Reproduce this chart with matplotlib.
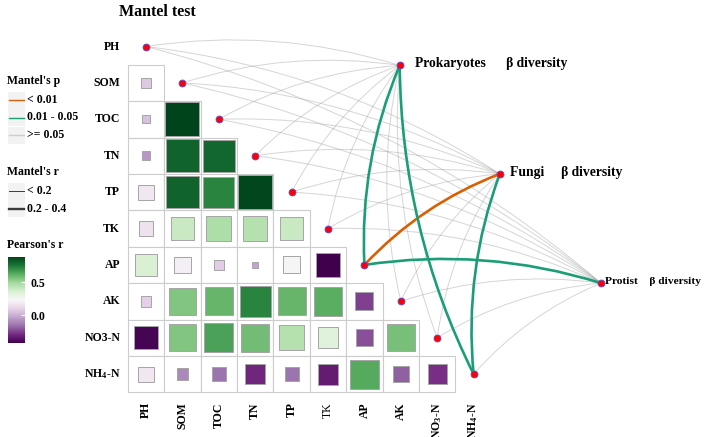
import numpy as np
import matplotlib.pyplot as plt
from matplotlib.path import Path
from matplotlib.patches import PathPatch, Rectangle
from matplotlib.colors import Normalize
from matplotlib.cm import ScalarMappable
from matplotlib.lines import Line2D

plt.rcParams['font.family'] = ['Liberation Serif', 'DejaVu Serif']
plt.rcParams['mathtext.fontset'] = 'custom'
plt.rcParams['mathtext.rm'] = 'Liberation Serif:bold'
plt.rcParams['mathtext.it'] = 'Liberation Serif:bold'
plt.rcParams['mathtext.bf'] = 'Liberation Serif:bold'
plt.rcParams['mathtext.default'] = 'bf'

# ---- data ----
row_labels = ['PH', 'SOM', 'TOC', 'TN', 'TP', 'TK', 'AP', 'AK', 'NO3-N', 'NH$_4$-N']
col_labels = ['PH', 'SOM', 'TOC', 'TN', 'TP', 'TK', 'AP', 'AK', 'NO$_3$-N', 'NH$_4$-N']

# Pearson's r, lower triangle: row i holds columns 0..i-1
pearson = [
    [],
    [0.07],
    [0.05, 0.88],
    [-0.06, 0.80, 0.79],
    [0.17, 0.80, 0.72, 0.87],
    [0.15, 0.40, 0.47, 0.45, 0.40],
    [0.36, 0.20, 0.08, -0.03, 0.22, -0.42],
    [0.09, 0.55, 0.60, 0.72, 0.60, 0.62, -0.25],
    [-0.40, 0.55, 0.65, 0.58, 0.45, 0.33, -0.22, 0.57],
    [0.17, -0.10, -0.15, -0.30, -0.15, -0.33, 0.63, -0.19, -0.28],
]

targets = ['Prokaryotes', 'Fungi', 'Protist']
target_labels = ['Prokaryotes      \u03b2 diversity', 'Fungi     \u03b2 diversity', 'Protist    \u03b2 diversity']

# Mantel test, one row per env variable, columns = targets
mantel_r = [
    [0.08, 0.05, 0.04],
    [0.12, 0.09, 0.10],
    [0.10, 0.07, 0.08],
    [0.06, 0.11, 0.07],
    [0.09, 0.06, 0.12],
    [0.11, 0.10, 0.09],
    [0.26, 0.33, 0.27],
    [0.07, 0.08, 0.06],
    [0.13, 0.12, 0.05],
    [0.29, 0.24, 0.11],
]
mantel_p = [
    [0.32, 0.55, 0.61],
    [0.21, 0.34, 0.28],
    [0.26, 0.47, 0.39],
    [0.45, 0.19, 0.42],
    [0.30, 0.52, 0.17],
    [0.24, 0.29, 0.36],
    [0.02, 0.004, 0.03],
    [0.41, 0.38, 0.58],
    [0.18, 0.22, 0.63],
    [0.02, 0.03, 0.27],
]

# ---- layout (cell units, y grows downward) ----
W, H = 708, 437
cell = 36.4
x0_px, y0_px = 146, 46.5
target_x = [6.97, 9.72, 12.5]
target_y = [0.52, 3.5, 6.5]
label_dx = [0.42, 0.28, 0.11]
label_size = [9.8, 9.8, 8.2]
bend = 0.115

cmap = plt.get_cmap('PRGn')
vals = [v for row in pearson for v in row]
norm = Normalize(vmin=min(vals), vmax=max(vals))

fig = plt.figure(figsize=(W / 100, H / 100), dpi=100)
ax = fig.add_axes([0, 0, 1, 1])
ax.set_xlim(-x0_px / cell, (W - x0_px) / cell)
ax.set_ylim((H - y0_px) / cell, -y0_px / cell)
ax.axis('off')

n = len(row_labels)
for i in range(n):
    for j, r in enumerate(pearson[i]):
        ax.add_patch(Rectangle((j - 0.5, i - 0.5), 1, 1, fc='white', ec='#cccccc', lw=0.8, zorder=1))
        s = np.sqrt(abs(r))
        ax.add_patch(Rectangle((j - s / 2, i - s / 2), s, s, fc=cmap(norm(r)), ec='#a5a5a5', lw=0.7, zorder=2))
    ax.text(-0.71, i, row_labels[i], ha='right', va='center', fontsize=8.5, weight='bold')
    ax.text(i, 9.77, col_labels[i], rotation=90, ha='center', va='top', fontsize=8.5,
            weight='normal' if col_labels[i] == 'TK' else 'bold')


def p_style(p):
    if p < 0.01:
        return '#D95F02', 1.0, 5
    if p < 0.05:
        return '#1B9E77', 1.0, 5
    return '#A2A2A2', 0.45, 3


# curves from env nodes (diagonal) to targets
for i in range(n):
    for k in range(len(targets)):
        sx, sy = i, i
        ex, ey = target_x[k], target_y[k]
        dx, dy = ex - sx, ey - sy
        cx = (sx + ex) / 2 + bend * dy
        cy = (sy + ey) / 2 - bend * dx
        col, alpha, z = p_style(mantel_p[i][k])
        lw = 0.7 if mantel_r[i][k] < 0.2 else 1.9
        path = Path([(sx, sy), (cx, cy), (ex, ey)], [Path.MOVETO, Path.CURVE3, Path.CURVE3])
        ax.add_patch(PathPatch(path, fc='none', ec=col, lw=lw, alpha=alpha, zorder=z))

ax.plot(range(n), range(n), 'o', ms=5, mfc='red', mec='#5b4fd6', mew=0.6, zorder=6, ls='none')
ax.plot(target_x, target_y, 'o', ms=5, mfc='red', mec='#5b4fd6', mew=0.6, zorder=6, ls='none')
for k in range(len(targets)):
    ax.text(target_x[k] + label_dx[k], target_y[k] - 0.05, target_labels[k], ha='left', va='center',
            fontsize=label_size[k], weight='bold')

# ---- title and legends (figure pixels) ----
def fx(px):
    return px / W


def fy(py):
    return 1 - py / H


fig.text(fx(157), fy(12), 'Mantel test', ha='center', va='center', fontsize=11.5, weight='bold')

fig.text(fx(7), fy(81), "Mantel's p", ha='left', va='center', fontsize=8.5, weight='bold')
p_items = [('< 0.01', '#D95F02', 1.0), ('0.01 - 0.05', '#1B9E77', 1.0), ('>= 0.05', '#A2A2A2', 0.45)]
for k, (lab, col, a) in enumerate(p_items):
    yc = 100 + k * 17.5
    fig.add_artist(Rectangle((fx(8), fy(yc + 8.5)), 17 / W, 17 / H, transform=fig.transFigure,
                             fc='#f2f2f2', ec='none'))
    fig.add_artist(Line2D([fx(9), fx(24)], [fy(yc), fy(yc)], transform=fig.transFigure,
                          color=col, alpha=a, lw=1.0))
    fig.text(fx(27), fy(yc), lab, ha='left', va='center', fontsize=8.5, weight='bold')

fig.text(fx(7), fy(172), "Mantel's r", ha='left', va='center', fontsize=8.5, weight='bold')
r_items = [('< 0.2', 0.7), ('0.2 - 0.4', 1.7)]
for k, (lab, lw) in enumerate(r_items):
    yc = 191 + k * 17.5
    fig.add_artist(Rectangle((fx(8), fy(yc + 8.5)), 17 / W, 17 / H, transform=fig.transFigure,
                             fc='#f2f2f2', ec='none'))
    fig.add_artist(Line2D([fx(9), fx(24)], [fy(yc), fy(yc)], transform=fig.transFigure,
                          color='#3a3a3a', lw=lw))
    fig.text(fx(27), fy(yc), lab, ha='left', va='center', fontsize=8.5, weight='bold')

fig.text(fx(7), fy(245), "Pearson's r", ha='left', va='center', fontsize=8.5, weight='bold')
cax = fig.add_axes([fx(8), fy(343), 17 / W, 86 / H])
cb = fig.colorbar(ScalarMappable(norm=norm, cmap=cmap), cax=cax)
cb.outline.set_visible(False)
cb.set_ticks([0.0, 0.5])
cb.set_ticklabels(['0.0', '0.5'])
cax.tick_params(direction='in', color='white', length=3, width=0.8, pad=4, labelsize=8.5)
for t in cax.get_yticklabels():
    t.set_fontweight('bold')

fig.savefig('out.png', dpi=100)
